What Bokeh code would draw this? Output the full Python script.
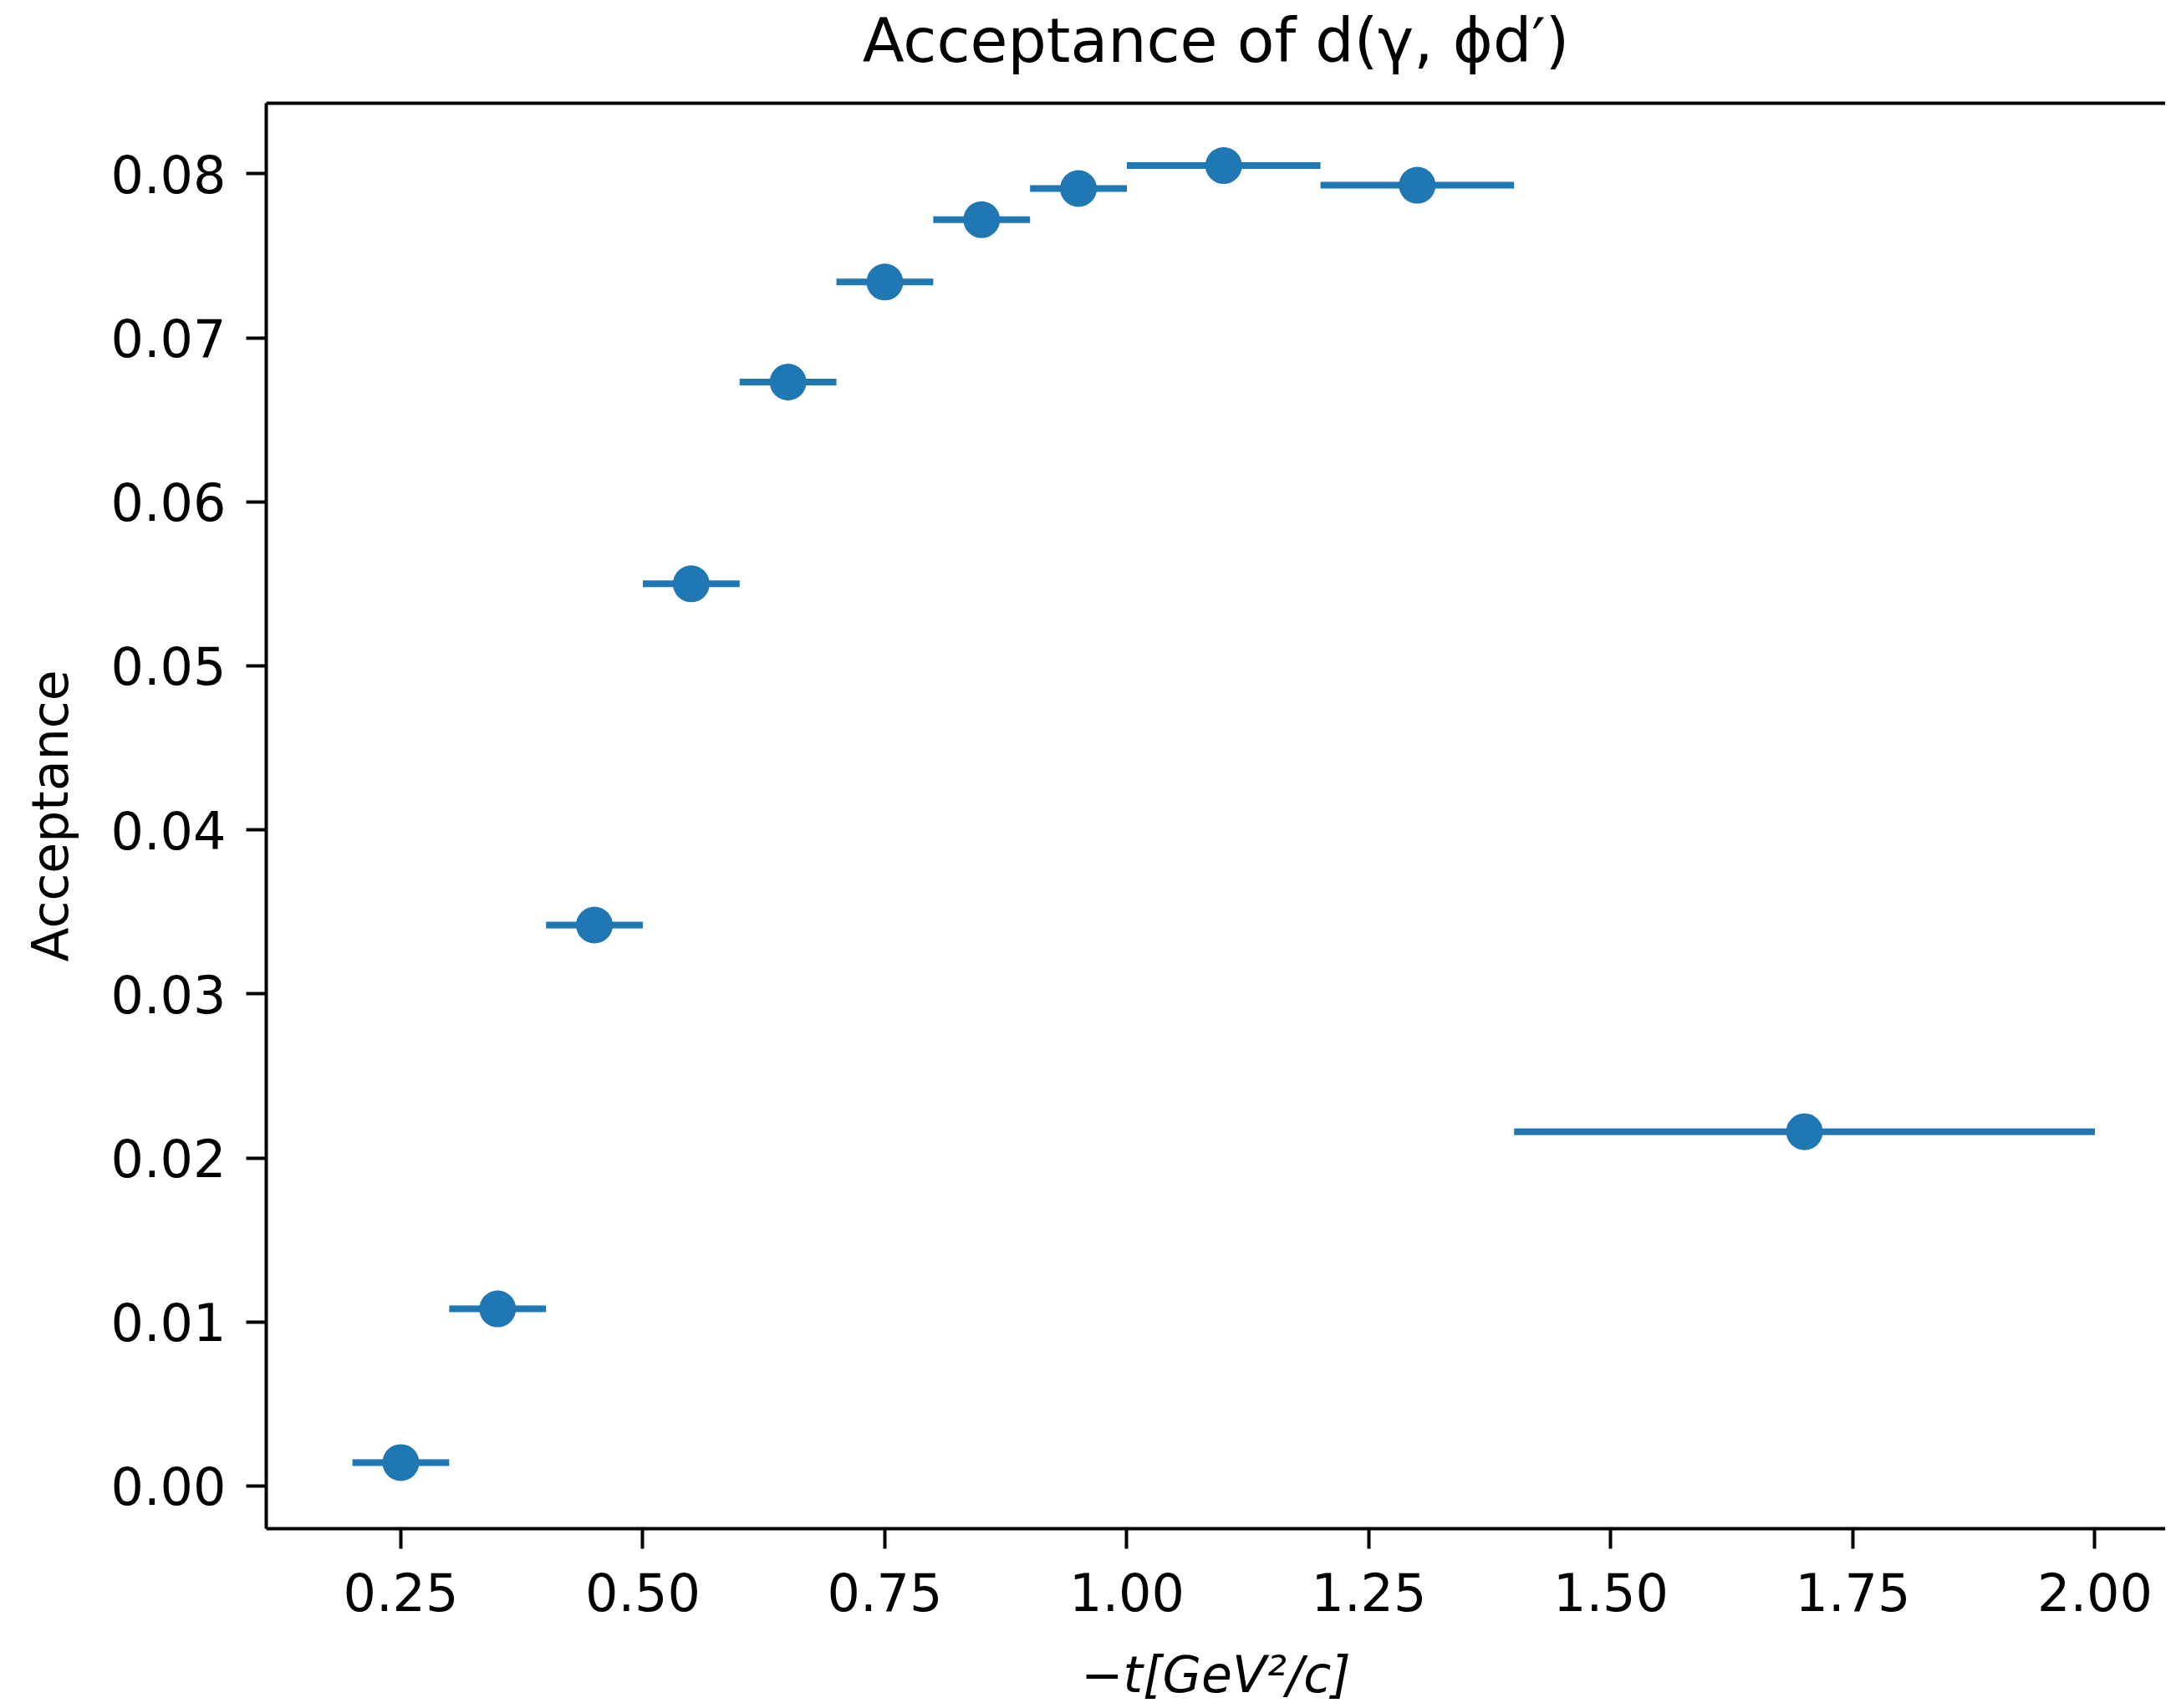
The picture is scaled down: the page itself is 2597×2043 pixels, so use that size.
from bokeh.plotting import figure
from bokeh.models import Range1d, FixedTicker, NumeralTickFormatter, LinearAxis, ColumnDataSource
from bokeh.embed import file_html
from bokeh.resources import INLINE

# ---- data ----
t_center = [0.25, 0.35, 0.45, 0.55, 0.65, 0.75, 0.85, 0.95, 1.10, 1.30, 1.70]
t_halfwidth = [0.05, 0.05, 0.05, 0.05, 0.05, 0.05, 0.05, 0.05, 0.10, 0.10, 0.30]
acceptance = [0.00143, 0.0108, 0.0342, 0.0550, 0.0673, 0.0734, 0.0772, 0.0791, 0.0805, 0.0793, 0.0216]
x_ticks = [0.25, 0.50, 0.75, 1.00, 1.25, 1.50, 1.75, 2.00]
y_ticks = [0.00, 0.01, 0.02, 0.03, 0.04, 0.05, 0.06, 0.07, 0.08]
title_text = "Acceptance of d(γ, ϕd′)"
x_label = "−t[GeV²/c]"
y_label = "Acceptance"

BLUE = "#1f77b4"
FONT = "DejaVu Sans"

src = ColumnDataSource(dict(
    x=t_center,
    y=acceptance,
    x0=[c - h for c, h in zip(t_center, t_halfwidth)],
    x1=[c + h for c, h in zip(t_center, t_halfwidth)],
))

p = figure(width=2590, height=2040, output_backend="svg", toolbar_location=None,
           x_range=Range1d(0.111, 2.073), y_range=Range1d(-0.0026, 0.0843),
           min_border_left=318, min_border_right=0, min_border_top=123, min_border_bottom=211)
p.background_fill_color = "white"
p.border_fill_color = "white"
p.outline_line_color = None
p.xgrid.visible = False
p.ygrid.visible = False

p.segment(x0="x0", y0="y", x1="x1", y1="y", source=src, line_color=BLUE, line_width=8)
p.scatter(x="x", y="y", source=src, size=44, marker="circle", fill_color=BLUE, line_color=BLUE, line_width=0)

for ax in (p.xaxis[0], p.yaxis[0]):
    ax.axis_line_width = 4
    ax.axis_line_color = "black"
    ax.major_tick_line_width = 4
    ax.major_tick_line_color = "black"
    ax.major_tick_out = 24
    ax.major_tick_in = 0
    ax.minor_tick_out = 0
    ax.minor_tick_in = 0
    ax.major_label_text_font = FONT
    ax.major_label_text_font_size = "62px"
    ax.major_label_text_color = "black"
    ax.axis_label_text_font = FONT
    ax.axis_label_text_font_size = "60px"
    ax.axis_label_text_color = "black"

p.xaxis[0].ticker = FixedTicker(ticks=x_ticks)
p.yaxis[0].ticker = FixedTicker(ticks=y_ticks)
p.xaxis[0].formatter = NumeralTickFormatter(format="0.00")
p.yaxis[0].formatter = NumeralTickFormatter(format="0.00")
p.xaxis[0].major_label_standoff = 28
p.yaxis[0].major_label_standoff = 24
p.xaxis[0].axis_label = x_label
p.xaxis[0].axis_label_text_font_style = "italic"
p.xaxis[0].axis_label_standoff = 38
p.yaxis[0].axis_label = y_label
p.yaxis[0].axis_label_text_font_style = "normal"
p.yaxis[0].axis_label_standoff = 34

# top spine, carrying the chart title as its label
top = LinearAxis(ticker=FixedTicker(ticks=[]), major_label_text_font_size="0px",
                 major_label_standoff=0,
                 axis_line_width=4, axis_line_color="black", major_tick_out=0, minor_tick_out=0,
                 axis_label=title_text, axis_label_text_font=FONT, axis_label_text_font_size="73px",
                 axis_label_text_font_style="normal", axis_label_text_color="black",
                 axis_label_standoff=33)
p.add_layout(top, "above")

open("out.html", "w").write(file_html(p, INLINE))
